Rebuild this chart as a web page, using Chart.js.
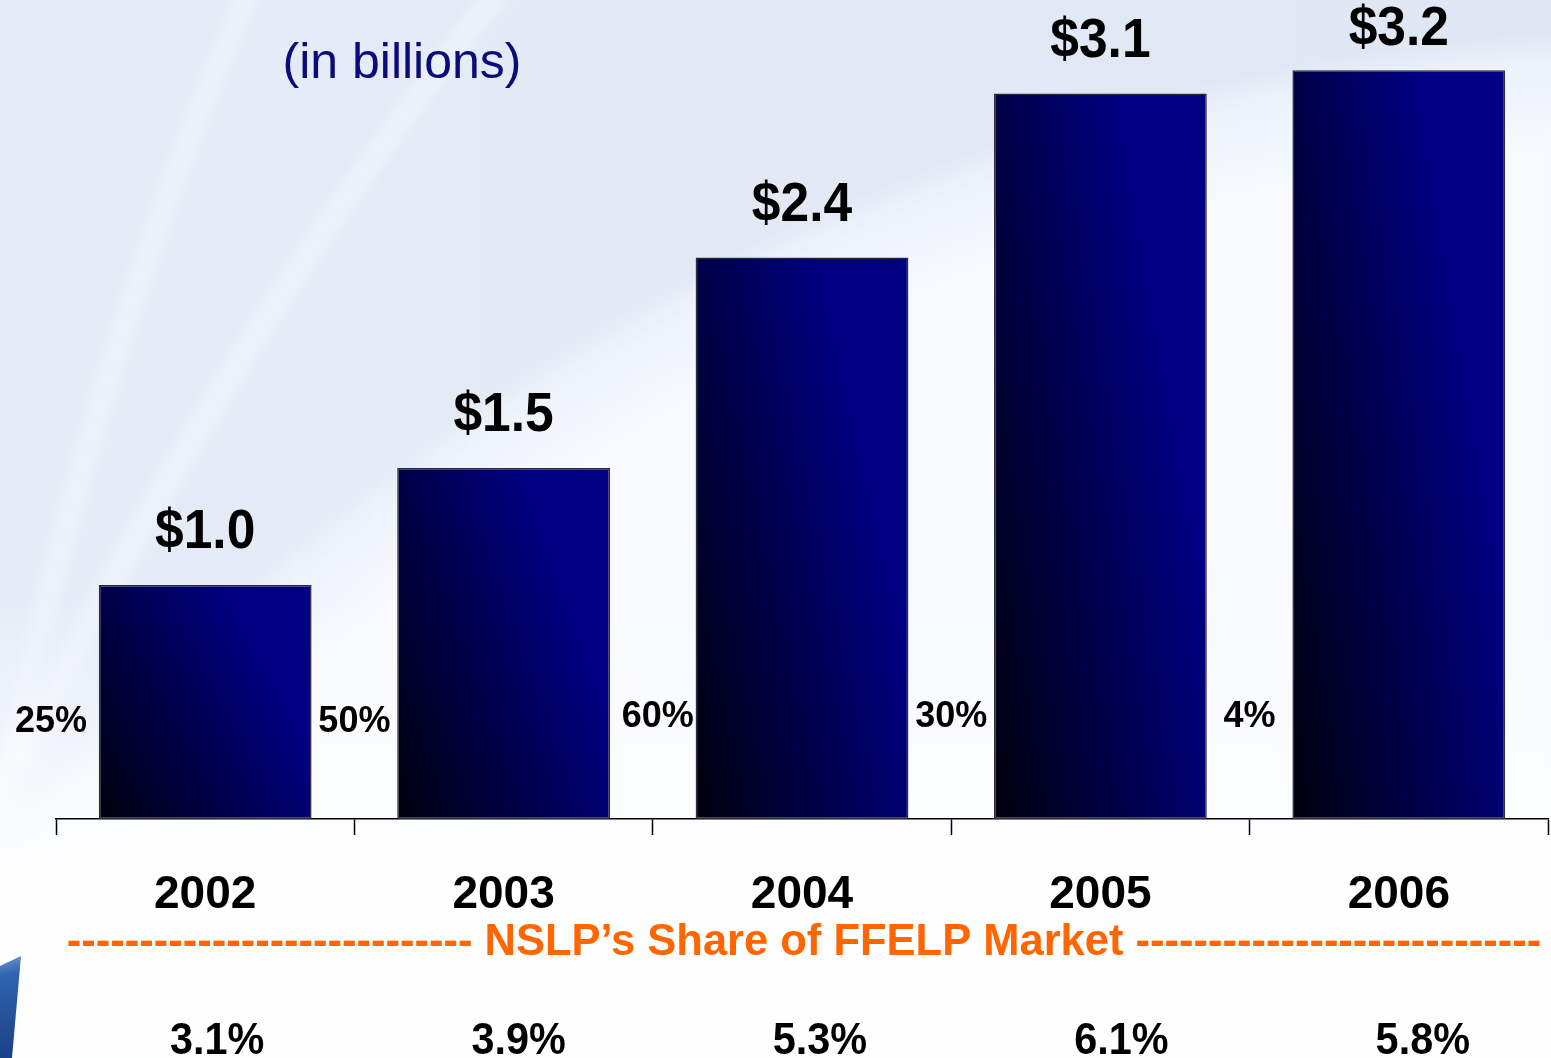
<!DOCTYPE html>
<html>
<head>
<meta charset="utf-8">
<script src="https://cdn.jsdelivr.net/npm/chart.js@4/dist/chart.umd.min.js"></script>
<style>
html,body{margin:0;padding:0;background:#fff;}
#wrap{width:1551px;height:1058px;position:relative;overflow:hidden;}
canvas{display:block;}
</style>
</head>
<body>
<div id="wrap"><canvas id="c" width="1551" height="1058"></canvas></div>
<script>
// ---- data ----
const years = ['2002', '2003', '2004', '2005', '2006'];
const volume = [1.0, 1.5, 2.4, 3.1, 3.2];
const volumeLabels = ['$1.0', '$1.5', '$2.4', '$3.1', '$3.2'];
const growth = ['25%', '50%', '60%', '30%', '4%'];
const marketShare = ['3.1%', '3.9%', '5.3%', '6.1%', '5.8%'];
const subtitle = '(in billions)';
const shareCaption = 'NSLP\u2019s Share of FFELP Market';

const FONT = '"Liberation Sans", Arial, Helvetica, sans-serif';

function barFill(ctx) {
  const chart = ctx.chart;
  const xs = chart.scales.x, ys = chart.scales.y;
  if (!xs || !ys || !chart.chartArea || ctx.type !== 'data') return '#000060';
  const i = ctx.dataIndex;
  const v = ctx.raw;
  const cw = (xs.right - xs.left) / years.length;
  const w = cw * 0.713;
  const cx = xs.getPixelForValue(i);
  const L = cx - w / 2;
  const B = ys.getPixelForValue(0);
  const T = ys.getPixelForValue(v);
  const h = Math.max(1, B - T);
  const a = 0.85, b = 0.5;
  const ax = a / w, by = b / h;
  const n = ax * ax + by * by;
  const dx = ax / n, dy = by / n;
  const g = chart.ctx.createLinearGradient(L, B, L + dx, B - dy);
  g.addColorStop(0, '#00000c');
  g.addColorStop(0.55, '#00004e');
  g.addColorStop(1, '#000082');
  return g;
}

const bgPlugin = {
  id: 'bg',
  beforeDraw(chart) {
    const c = chart.ctx;
    const W = chart.width, H = chart.height;
    c.save();
    const g = c.createLinearGradient(0, 0, W, 0);
    g.addColorStop(0, '#e6ecf7');
    g.addColorStop(1, '#dfe7f4');
    c.fillStyle = g;
    c.fillRect(0, 0, W, H);
    // big lighter swoosh region (lower-left of a huge arc)
    const rg = c.createRadialGradient(1700, 2200, 2060, 1700, 2200, 2175);
    rg.addColorStop(0, 'rgba(250,252,255,0.85)');
    rg.addColorStop(0.7, 'rgba(250,252,255,0.5)');
    rg.addColorStop(1, 'rgba(250,252,255,0)');
    c.fillStyle = rg;
    c.fillRect(0, 0, W, H);
    // thin light bands
    c.filter = 'blur(8px)';
    c.lineCap = 'round';
    c.strokeStyle = 'rgba(255,255,255,0.35)';
    c.lineWidth = 18;
    c.beginPath();
    c.moveTo(-20, 900);
    c.quadraticCurveTo(90, 350, 250, -10);
    c.stroke();
    c.lineWidth = 22;
    c.beginPath();
    c.moveTo(20, 760);
    c.quadraticCurveTo(230, 330, 500, -10);
    c.stroke();
    c.filter = 'none';
    // lower area whiter
    const g2 = c.createLinearGradient(0, 600, 0, 880);
    g2.addColorStop(0, 'rgba(255,255,255,0)');
    g2.addColorStop(1, 'rgba(255,255,255,0.9)');
    c.fillStyle = g2;
    c.fillRect(0, 600, W, H - 600);
    // logo fragment bottom-left
    const g3 = c.createLinearGradient(0, 955, 20, 1058);
    g3.addColorStop(0, '#6d9ad6');
    g3.addColorStop(0.2, '#2f64ae');
    g3.addColorStop(1, '#1a3f86');
    c.fillStyle = g3;
    c.beginPath();
    c.moveTo(0, 966);
    c.lineTo(21, 956);
    c.lineTo(12, 1058);
    c.lineTo(0, 1058);
    c.closePath();
    c.fill();
    c.restore();
  }
};

function narrowText(c, text, x, y, sx) {
  c.save();
  c.translate(x, y);
  c.scale(sx, 1);
  c.fillText(text, 0, 0);
  c.restore();
}

const labelPlugin = {
  id: 'labels',
  afterDraw(chart) {
    const c = chart.ctx;
    const xs = chart.scales.x, ys = chart.scales.y;
    const cw = (xs.right - xs.left) / years.length;
    c.save();
    c.textAlign = 'center';
    c.textBaseline = 'middle';
    // subtitle
    c.fillStyle = '#0b0b7c';
    c.font = '400 50px ' + FONT;
    c.fillText(subtitle, 402, 64);
    // value labels
    c.fillStyle = '#000';
    c.font = 'bold 56px ' + FONT;
    volume.forEach((v, i) => {
      const x = xs.getPixelForValue(i);
      const y = Math.max(30, ys.getPixelForValue(v) - 52);
      narrowText(c, volumeLabels[i], x, y, 0.92);
    });
    // growth labels at category boundaries
    c.font = 'bold 36px ' + FONT;
    growth.forEach((t, i) => {
      const x = xs.left + cw * i + (i === 0 ? -5 : (i === 2 ? 5 : 0));
      c.fillText(t, x, i < 2 ? 722 : 717);
    });
    // orange caption line
    const dashes = '-'.repeat(28);
    c.fillStyle = '#ff6600';
    c.font = 'bold 43.5px ' + FONT;
    c.fillText(dashes + ' ' + shareCaption + ' ' + dashes, (xs.left + xs.right) / 2 + 2, 943);
    // market share values
    c.fillStyle = '#000';
    c.font = 'bold 45px ' + FONT;
    marketShare.forEach((t, i) => {
      const x = xs.getPixelForValue(i) + 12 + 3 * i;
      narrowText(c, t, x, 1042, 0.92);
    });
    c.restore();
  }
};

new Chart(document.getElementById('c'), {
  type: 'bar',
  data: {
    labels: years,
    datasets: [{
      data: volume,
      backgroundColor: barFill,
      borderColor: '#2a2a3a',
      borderWidth: 1.5,
      borderSkipped: false,
      barPercentage: 0.713,
      categoryPercentage: 1.0
    }]
  },
  options: {
    responsive: false,
    animation: false,
    devicePixelRatio: 1,
    layout: { padding: { left: 56, right: 3, top: 0, bottom: 0 } },
    plugins: { legend: { display: false }, tooltip: { enabled: false }, title: { display: false } },
    scales: {
      y: { display: false, min: 0, max: 3.5 },
      x: {
        offset: true,
        afterFit(scale) { scale.height = 1058 - 819; },
        border: { display: true, color: '#000', width: 1.5 },
        grid: {
          offset: true,
          drawOnChartArea: false,
          drawTicks: true,
          tickLength: 16,
          tickColor: '#000',
          tickWidth: 1.5
        },
        ticks: {
          color: '#000',
          padding: 33,
          font: { family: FONT, size: 46, weight: 'bold' },
          maxRotation: 0
        }
      }
    }
  },
  plugins: [bgPlugin, labelPlugin]
});
</script>
</body>
</html>
